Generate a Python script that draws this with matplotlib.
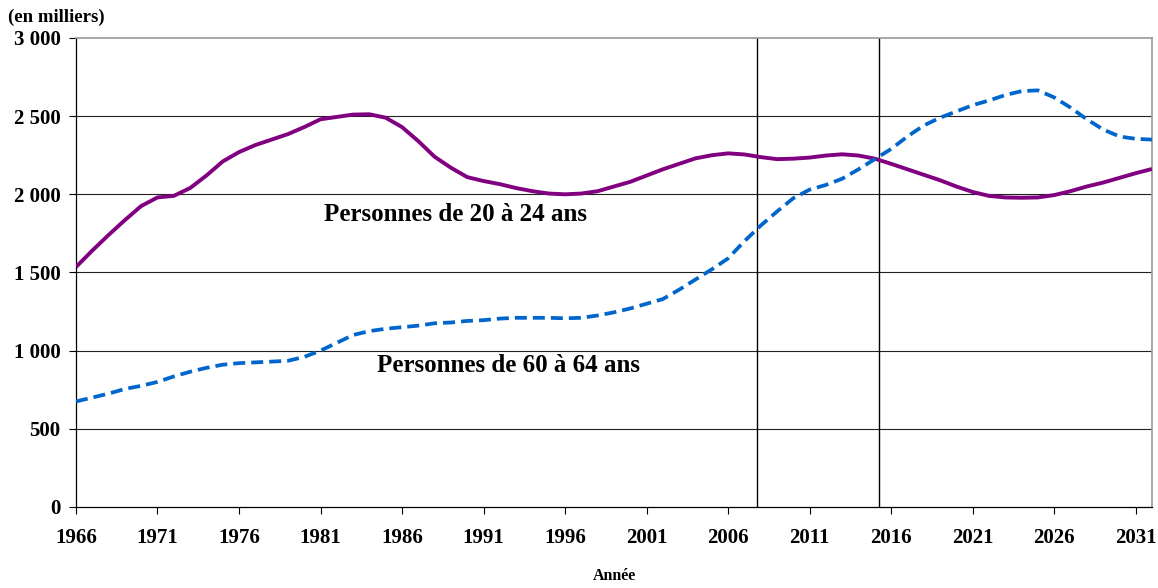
import matplotlib.pyplot as plt
import numpy as np

years = np.arange(1966, 2033)

# personnes de 20 a 24 ans (en milliers)
pop_20_24 = [1535, 1640, 1740, 1835, 1925, 1980, 1990, 2040, 2120, 2210,
             2270, 2315, 2350, 2385, 2430, 2480, 2495, 2510, 2512, 2490,
             2430, 2340, 2240, 2170, 2110, 2085, 2065, 2040, 2020, 2005,
             2000, 2005, 2020, 2050, 2080, 2120, 2160, 2195, 2230, 2250,
             2262, 2255, 2238, 2225, 2228, 2235, 2248, 2256, 2248, 2228,
             2195, 2160, 2125, 2090, 2050, 2015, 1990, 1980, 1978, 1980,
             1995, 2020, 2050, 2075, 2105, 2135, 2162]

# personnes de 60 a 64 ans (en milliers)
pop_60_64 = [675, 700, 725, 755, 775, 800, 835, 865, 890, 910,
             920, 925, 930, 935, 960, 1000, 1050, 1100, 1125, 1140,
             1150, 1160, 1175, 1180, 1190, 1195, 1205, 1210, 1210, 1210,
             1207, 1210, 1225, 1245, 1270, 1300, 1330, 1390, 1455, 1520,
             1590, 1700, 1800, 1890, 1975, 2030, 2060, 2100, 2160, 2225,
             2290, 2370, 2440, 2490, 2530, 2570, 2600, 2635, 2660, 2665,
             2620, 2555, 2480, 2415, 2370, 2355, 2350]

xtick_years = list(range(1966, 2032, 5))
ytick_vals = [0, 500, 1000, 1500, 2000, 2500, 3000]
ytick_labels = ['0', '500', '1 000', '1 500', '2 000', '2 500', '3 000']
marker_years = [2007.8, 2015.25]

plt.rcParams['font.family'] = ['Liberation Serif', 'DejaVu Serif']
plt.rcParams['font.weight'] = 'bold'

fig = plt.figure(figsize=(11.58, 5.88), dpi=100)
ax = fig.add_axes([0.0656, 0.1378, 0.9292, 0.7976])

for v in ytick_vals[1:-1]:
    ax.axhline(v, color='#222222', lw=0.8, zorder=1)
for yr in marker_years:
    ax.axvline(yr, color='black', lw=1.0, zorder=1)

ax.plot(years, pop_20_24, color='#800080', lw=2.8, solid_capstyle='butt',
        solid_joinstyle='round', zorder=3)
ax.plot(years, pop_60_64, color='#0066CC', lw=2.7, dashes=(3.2, 1.6), zorder=3)

ax.set_xlim(1966, 2032)
ax.set_ylim(0, 3000)
ax.set_xticks(xtick_years, [str(y) for y in xtick_years])
ax.set_yticks(ytick_vals, ytick_labels)
ax.tick_params(axis='both', labelsize=15, length=5, width=0.8, direction='out')
ax.tick_params(axis='x', pad=10)
ax.tick_params(axis='y', pad=6)

for s in ['top', 'right']:
    ax.spines[s].set_color('#999999')
    ax.spines[s].set_linewidth(1.2)
for s in ['left', 'bottom']:
    ax.spines[s].set_color('black')
    ax.spines[s].set_linewidth(0.9)

ax.text(1989.3, 1868, 'Personnes de 20 à 24 ans', fontsize=18, fontweight='bold',
        ha='center', va='center')
ax.text(1992.5, 908, 'Personnes de 60 à 64 ans', fontsize=18, fontweight='bold',
        ha='center', va='center')

fig.text(0.007, 0.97, '(en milliers)', fontsize=13.5, fontweight='bold', va='center', ha='left')
fig.text(0.531, 0.02, 'Année', fontsize=11.5, fontweight='bold', va='center', ha='center')

fig.savefig('out.png', dpi=100)
